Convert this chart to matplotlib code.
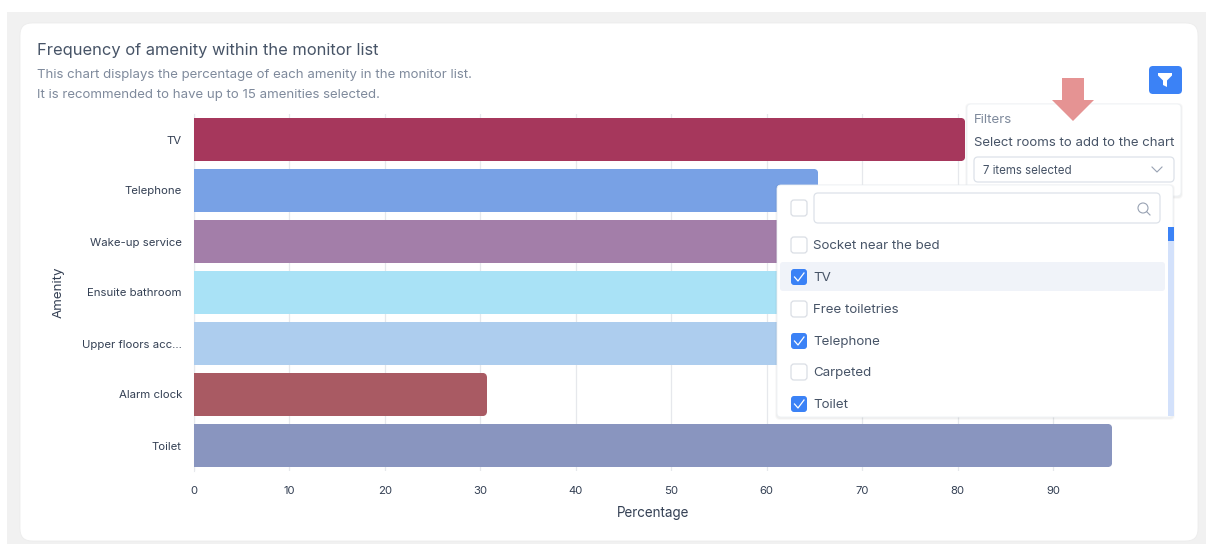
import matplotlib
matplotlib.use('Agg')
import matplotlib.pyplot as plt
from matplotlib.patches import FancyBboxPatch, Polygon, Rectangle, Circle

plt.rcParams['font.family'] = ['Inter', 'DejaVu Sans']

amenities = ['TV', 'Telephone', 'Wake-up service', 'Ensuite bathroom',
             'Upper floors acc...', 'Alarm clock', 'Toilet']
percentages = [80.8, 65.4, 64.0, 63.0, 62.0, 30.7, 96.2]
bar_colors = ['#A6375C', '#78A1E5', '#A37EA9', '#A9E2F6',
              '#ADCDEE', '#A95A63', '#8995BF']
x_ticks = [0, 10, 20, 30, 40, 50, 60, 70, 80, 90]

filter_items = ['Socket near the bed', 'TV', 'Free toiletries',
                'Telephone', 'Carpeted', 'Toilet']
filter_checked = [False, True, False, True, False, True]
filter_rows = [245, 277, 309, 341, 372, 404]

W, H = 1206, 545
BLUE = '#3B82F6'
DARK = '#475467'
GREY = '#7F8A9C'


def round_box(ax, x0, y0, x1, y1, r, fc, ec='none', lw=0.0, alpha=None, zorder=1):
    box = FancyBboxPatch((x0, y0), x1 - x0, y1 - y0,
                         boxstyle='round,pad=0,rounding_size=%s' % r,
                         fc=fc, ec=ec, lw=lw, alpha=alpha, zorder=zorder)
    ax.add_patch(box)
    return box


def pixel_axes(fig, zorder):
    ax = fig.add_axes([0, 0, 1, 1], zorder=zorder)
    ax.set_xlim(0, W)
    ax.set_ylim(H, 0)
    ax.axis('off')
    ax.patch.set_alpha(0)
    return ax


def popup(ax, x0, y0, x1, y1):
    # soft shadow, then the panel
    round_box(ax, x0 - 2, y0 - 1, x1 + 2, y1 + 3, 5, '#000000', alpha=0.025)
    round_box(ax, x0 - 1, y0, x1 + 1, y1 + 2, 4, '#000000', alpha=0.035)
    round_box(ax, x0, y0, x1, y1, 4, 'white', ec='#EEF1F5', lw=0.6)


def checkbox(ax, y, checked):
    x0, x1 = 791, 807
    if checked:
        round_box(ax, x0, y - 8, x1, y + 8, 3, BLUE, zorder=3)
        ax.plot([794.5, 798, 804], [y, y + 4, y - 4], color='white', lw=0.9, zorder=4)
    else:
        round_box(ax, x0, y - 8, x1, y + 8, 3, 'white', ec='#DADEE5', lw=0.9, zorder=3)


fig = plt.figure(figsize=(W / 100, H / 100), dpi=100, facecolor='white')

# page background and card
back = pixel_axes(fig, 0)
back.add_patch(Rectangle((7, 12), W - 7, 532, fc='#F1F1F1', ec='none'))
round_box(back, 20, 23, 1198, 541, 12, 'white', ec='#ECECEC', lw=0.6)
back.text(37, 50.5, 'Frequency of amenity within the monitor list', fontsize=11.88,
          color=DARK, va='center', ha='left')
back.text(37, 75, 'This chart displays the percentage of each amenity in the monitor list.',
          fontsize=9.53, color=GREY, va='center', ha='left')
back.text(37, 95, 'It is recommended to have up to 15 amenities selected.',
          fontsize=9.53, color=GREY, va='center', ha='left')

# the chart itself
ax = fig.add_axes([194 / W, 1 - 471 / H, (1148.5 - 194) / W, 357 / H], zorder=1)
ax.patch.set_alpha(0)
bars = ax.barh(amenities, percentages, height=0.85, color=bar_colors, zorder=3)
ax.set_xlim(0, 100)
ax.set_ylim(6.5, -0.5)
ax.set_xticks(x_ticks)
ax.grid(axis='x', color='#E6E8EC', lw=0.9, zorder=0)
ax.tick_params(axis='both', length=0, labelsize=8.2, labelcolor='#344054')
ax.tick_params(axis='y', pad=8.7)
ax.tick_params(axis='x', pad=10.5)
for side in ['top', 'right', 'bottom']:
    ax.spines[side].set_visible(False)
ax.spines['left'].set_color('#E6E8EC')
ax.set_xlabel('Percentage', fontsize=9.7, color='#344054')
ax.xaxis.set_label_coords(0.481, -0.097)
ax.set_ylabel('Amenity', fontsize=9.6, color='#344054')
ax.yaxis.set_label_coords(-0.136, 0.5)

# round the right-hand bar ends only
back_inv = back.transData.inverted()
for bar in bars:
    (x0, y0), (x1, y1) = back_inv.transform(
        ax.transData.transform(bar.get_corners()[[0, 2]]))
    top, bottom = min(y0, y1), max(y0, y1)
    clip = FancyBboxPatch((x0 - 8, top), x1 - x0 + 8, bottom - top,
                          boxstyle='round,pad=0,rounding_size=5',
                          transform=back.transData)
    bar.set_clip_path(clip)

# filter widgets on top of the chart
ui = pixel_axes(fig, 2)
round_box(ui, 1149, 66, 1182, 94, 4, BLUE)
ui.add_patch(Polygon([(1158, 73), (1172, 73), (1172, 75.5), (1167, 80.5), (1167, 87),
                      (1163, 85), (1163, 80.5), (1158, 75.5)], fc='white', ec='none', zorder=2))

popup(ui, 967, 104, 1181, 196)
ui.text(974, 120, 'Filters', fontsize=9.6, color=GREY, va='center', ha='left')
ui.text(974, 143, 'Select rooms to add to the chart', fontsize=9.5, color=DARK, va='center', ha='left')
round_box(ui, 974, 157, 1174, 182, 4, 'white', ec='#DDE2E9', lw=0.9)
ui.text(983, 170.5, '7 items selected', fontsize=8.3, color=DARK, va='center', ha='left')
ui.plot([1152, 1157, 1162], [167, 172, 167], color='#98A2B3', lw=0.8)

# red annotation arrow
ui.add_patch(Polygon([(1062, 78), (1084, 78), (1084, 100), (1094, 100), (1073, 121),
                      (1052, 100), (1062, 100)], fc='#E59393', ec='none', zorder=5))

popup(ui, 777, 185, 1173, 417)
checkbox(ui, 208, False)
round_box(ui, 814, 193, 1160, 223, 4, 'white', ec='#DDE2E9', lw=0.9, zorder=3)
ui.add_patch(Circle((1143, 208), 5, fc='none', ec='#98A2B3', lw=0.8, zorder=4))
ui.plot([1146.5, 1150], [211.5, 215], color='#98A2B3', lw=0.8, zorder=4)

round_box(ui, 780, 262, 1165, 291, 3, '#F0F3F9', zorder=2)
for item, is_on, row in zip(filter_items, filter_checked, filter_rows):
    checkbox(ui, row, is_on)
    ui.text(813, row + 1, item, fontsize=9.6, color=DARK, va='center', ha='left', zorder=4)

ui.add_patch(Rectangle((1168, 227), 6, 189, fc='#D3E1FB', ec='none', zorder=3))
ui.add_patch(Rectangle((1168, 227), 6, 14, fc=BLUE, ec='none', zorder=4))

fig.savefig('out.png', dpi=100)
